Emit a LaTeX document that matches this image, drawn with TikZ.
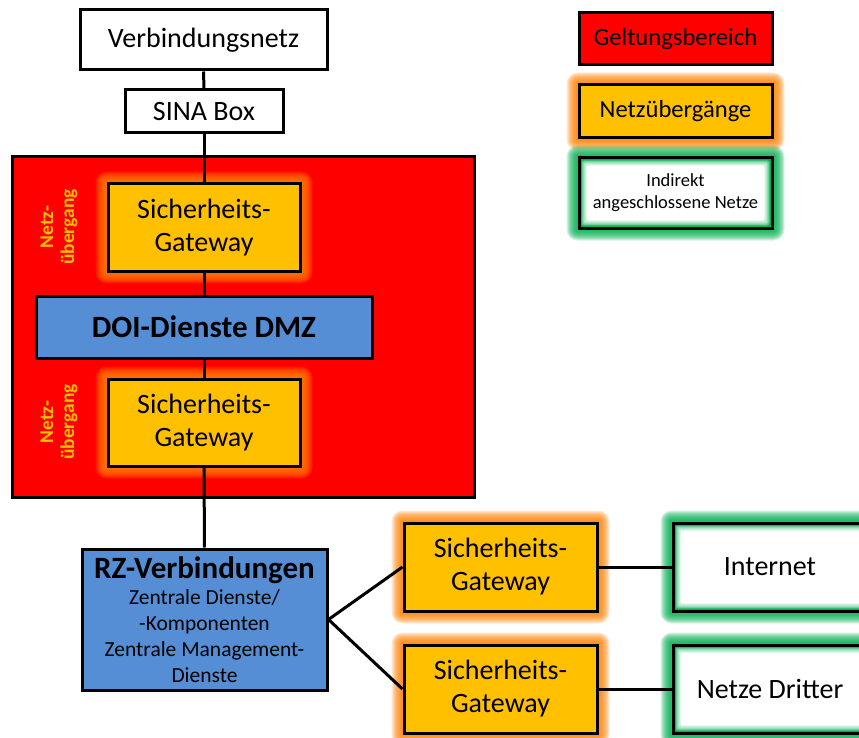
\documentclass[tikz,border=0pt]{standalone}
\usepackage{fontspec}
\setmainfont{Carlito}
\definecolor{gred}{RGB}{255,0,0}
\definecolor{gorange}{RGB}{255,192,0}
\definecolor{gglow}{RGB}{255,130,0}
\definecolor{gblue}{RGB}{85,142,213}
\definecolor{ggreen}{RGB}{0,176,80}
\pgfdeclarelayer{bg}
\pgfdeclarelayer{glow}
\pgfdeclarelayer{lines}
\pgfsetlayers{bg,glow,lines,main}
\newcommand{\glowbox}[2]{%
  \begin{pgfonlayer}{glow}
  \foreach \i in {1,...,11} {
    \fill[#2, opacity=0.16, rounded corners=\i pt] ([shift={(-\i,-\i)}]#1.north west) rectangle ([shift={(\i,\i)}]#1.south east);
  }
  \end{pgfonlayer}}
\newcommand{\innerwhite}[1]{%
  \foreach \i in {4,...,8} {
    \fill[white, opacity=0.3, rounded corners=2pt] ([shift={(\i,\i)}]#1.north west) rectangle ([shift={(-\i,-\i)}]#1.south east);
  }
  \fill[white, rounded corners=2pt] ([shift={(9,9)}]#1.north west) rectangle ([shift={(-9,-9)}]#1.south east);}
\tikzset{
  box/.style={draw=black, line width=3pt, inner sep=0pt, align=center},
  gwbox/.style={box, fill=gorange, minimum width=192pt, minimum height=87pt, font=\fontsize{28}{33}\selectfont},
  bluebox/.style={box, fill=gblue},
  greenbox/.style={box, fill=ggreen, minimum width=207pt, minimum height=88pt},
  whitebox/.style={box, fill=white},
  conn/.style={draw=black, line width=3pt},
  nulabel/.style={rotate=90, text=gorange, font=\bfseries\fontsize{19.5}{21}\selectfont, align=center, inner sep=0pt}
}
\begin{document}
\begin{tikzpicture}[x=1pt,y=-1pt]
\clip (0,0) rectangle (859,738);
\begin{pgfonlayer}{bg}
\fill[white] (0,0) rectangle (859,738);
\node[box, fill=gred, minimum width=462pt, minimum height=340pt] (area) at (243,327) {};
\end{pgfonlayer}

\node[whitebox, minimum width=247pt, minimum height=60pt, font=\fontsize{28}{32}\selectfont] (vn) at (203.5,40) {Verbindungsnetz};
\node[whitebox, minimum width=158pt, minimum height=43pt, font=\fontsize{28}{32}\selectfont] (sina) at (204,111.5) {SINA Box};
\node[gwbox] (gw1) at (204,227.5) {Sicherheits-\\Gateway};
\node[bluebox, minimum width=336pt, minimum height=62pt, font=\bfseries\fontsize{31}{36}\selectfont] (dmz) at (204,327) {DOI-Dienste DMZ};
\node[gwbox] (gw2) at (204,422.5) {Sicherheits-\\Gateway};
\node[nulabel] (nu1) at (59,227) {Netz-\\übergang};
\node[nulabel] (nu2) at (59,422) {Netz-\\übergang};

\node[bluebox, minimum width=245pt, minimum height=141pt, font=\fontsize{21.5}{26}\selectfont] (rz) at (204.5,619.5) {{\bfseries\fontsize{31}{33}\selectfont RZ-Verbindungen}\\Zentrale Dienste/\\-Komponenten\\Zentrale Management-\\Dienste};
\node[gwbox, minimum width=193pt, minimum height=88pt] (gw3) at (500.5,567) {Sicherheits-\\Gateway};
\node[gwbox, minimum width=193pt, minimum height=88pt] (gw4) at (500.5,689) {Sicherheits-\\Gateway};
\node[greenbox] (inet) at (776.5,567) {};
\node[greenbox] (nd) at (776.5,689) {};
\innerwhite{inet}
\innerwhite{nd}
\node[font=\fontsize{28}{33}\selectfont] (inettxt) at (770,567) {Internet};
\node[font=\fontsize{28}{33}\selectfont] (ndtxt) at (770,689) {Netze Dritter};

\node[box, fill=gred, minimum width=193pt, minimum height=52pt, font=\fontsize{24.6}{29}\selectfont] (leg1) at (675.5,39) {Geltungsbereich};
\node[box, fill=gorange, minimum width=193pt, minimum height=53pt, font=\fontsize{24.6}{29}\selectfont] (leg2) at (675.5,111.5) {Netzübergänge};
\node[box, fill=ggreen, minimum width=193pt, minimum height=70pt] (leg3) at (675.5,193) {};
\innerwhite{leg3}
\node[font=\fontsize{18.5}{22}\selectfont, align=center] (leg3txt) at (675.5,193) {Indirekt\\angeschlossene Netze};

\glowbox{gw1}{gglow}
\glowbox{gw2}{gglow}
\glowbox{gw3}{gglow}
\glowbox{gw4}{gglow}
\glowbox{leg2}{gglow}
\glowbox{inet}{ggreen}
\glowbox{nd}{ggreen}
\glowbox{leg3}{ggreen}

\begin{pgfonlayer}{lines}
\draw[conn] (vn.south) -- (sina.north);
\draw[conn] (sina.south) -- (gw1.north);
\draw[conn] (gw1.south) -- (dmz.north);
\draw[conn] (dmz.south) -- (gw2.north);
\draw[conn] (gw2.south) -- (rz.north);
\draw[conn] (rz.east) -- (gw3.west);
\draw[conn] (rz.east) -- (gw4.west);
\draw[conn] (gw3.east) -- (inet.west);
\draw[conn] (gw4.east) -- (nd.west);
\end{pgfonlayer}
\end{tikzpicture}
\end{document}
